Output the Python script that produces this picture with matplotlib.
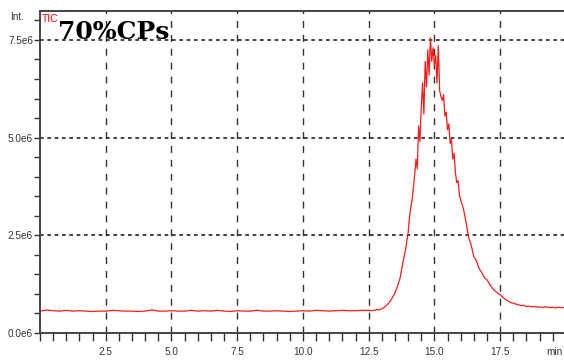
import numpy as np
import matplotlib.pyplot as plt
from matplotlib.ticker import MultipleLocator

# TIC trace, intensity in units of 1e6
base_vals = [0.56, 0.59, 0.57, 0.56, 0.58, 0.56, 0.57, 0.56, 0.55, 0.56,
             0.56, 0.58, 0.57, 0.56, 0.56, 0.55, 0.56, 0.59, 0.56, 0.56,
             0.57, 0.56, 0.56, 0.58, 0.56, 0.57, 0.56, 0.58, 0.56, 0.55,
             0.57, 0.56, 0.56, 0.58, 0.56, 0.56, 0.57, 0.56, 0.55, 0.56,
             0.57, 0.56, 0.58, 0.57, 0.56, 0.57, 0.58, 0.57, 0.57, 0.58,
             0.58]
rise_vals = [0.57, 0.58, 0.60, 0.59, 0.62, 0.66, 0.72, 0.80, 0.90, 1.02,
             1.20, 1.42, 1.80, 2.12]
core_vals = [2.35, 2.55, 2.95, 3.20, 3.40, 3.70, 4.05, 4.45, 4.20, 5.30,
             4.90, 5.75, 6.40, 5.60, 6.95, 6.30, 7.25, 6.60, 7.55, 6.95,
             7.30, 6.85, 7.10, 6.40, 7.35, 6.20, 6.05, 5.95, 6.10, 5.55,
             5.65, 5.20, 5.35, 4.85, 4.95, 4.45, 4.60, 4.10, 3.85, 3.90,
             3.55, 3.40]
tail_vals = [3.20, 2.85, 2.45, 2.25, 1.95, 1.85, 1.65, 1.55, 1.42, 1.36,
             1.25, 1.15, 1.08, 1.02, 0.98, 0.92, 0.86, 0.82, 0.78, 0.76,
             0.74, 0.72, 0.70, 0.71, 0.68, 0.69, 0.67, 0.68, 0.66, 0.67,
             0.65, 0.67, 0.66, 0.65, 0.66, 0.64, 0.66, 0.65, 0.65]

# scan times (min) for each segment
t_base = 0.0 + 0.25 * np.arange(len(base_vals))
t_rise = 12.6 + 0.1 * np.arange(len(rise_vals))
t_core = 13.95 + 0.05 * np.arange(len(core_vals))
t_tail = 16.1 + 0.1 * np.arange(len(tail_vals))

t = np.concatenate([t_base, t_rise, t_core, t_tail])
inten = np.concatenate([base_vals, rise_vals, core_vals, tail_vals]) * 1e6

x_ticks = [2.5, 5.0, 7.5, 10.0, 12.5, 15.0, 17.5]
y_ticks = [0.0, 2.5e6, 5.0e6, 7.5e6]
y_labels = ['0.0e6', '2.5e6', '5.0e6', '7.5e6']

lab_font = 'Liberation Sans'
lab_size = 7.2
lab_col = '#333333'

fig = plt.figure(figsize=(5.64, 3.61), dpi=100)
ax = fig.add_axes([40 / 564, 28 / 361, 524 / 564, 322 / 361])

ax.plot(t, inten, color='#ff1a1a', lw=0.9)

ax.set_xlim(0, 19.93)
ax.set_ylim(0, 8.24e6)

for xv in x_ticks:
    ax.axvline(xv, color='#333333', lw=1.0, ls=(0, (5, 5)), zorder=0)
for yv in y_ticks[1:]:
    ax.axhline(yv, color='#222222', lw=1.2, ls=(0, (2.2, 2.2)), zorder=0)

ax.set_xticks(x_ticks)
ax.set_xticklabels([f'{v:.1f}' for v in x_ticks], family=lab_font,
                   fontsize=lab_size, color=lab_col)
ax.xaxis.set_minor_locator(MultipleLocator(0.5))
ax.set_yticks(y_ticks)
ax.set_yticklabels(y_labels, family=lab_font, fontsize=lab_size,
                   color=lab_col)
ax.yaxis.set_minor_locator(MultipleLocator(0.5e6))

ax.tick_params(axis='x', which='both', direction='out', length=6, width=1,
               color='#333333', pad=4)
ax.tick_params(axis='y', which='both', direction='out', length=4, width=1,
               color='#333333', pad=1)

for side in ['left', 'bottom', 'top']:
    ax.spines[side].set_color('#444444')
    ax.spines[side].set_linewidth(1.4)
ax.spines['right'].set_visible(False)

ax.text(0.003, 0.99, 'TIC', transform=ax.transAxes, color='red',
        fontsize=7.5, family=lab_font, va='top', ha='left')
ax.text(0.034, 0.935, '70%CPs', transform=ax.transAxes, fontsize=18,
        fontweight='bold', family='DejaVu Serif', va='center', ha='left')

fig.text(10 / 564, 1 - 17 / 361, 'Int.', family=lab_font, fontsize=lab_size,
         color=lab_col, va='center', ha='left')
fig.text(563 / 564, 1 - 352 / 361, 'min', family=lab_font, fontsize=lab_size,
         color=lab_col, va='center', ha='right')

fig.savefig('out.png', dpi=100)
